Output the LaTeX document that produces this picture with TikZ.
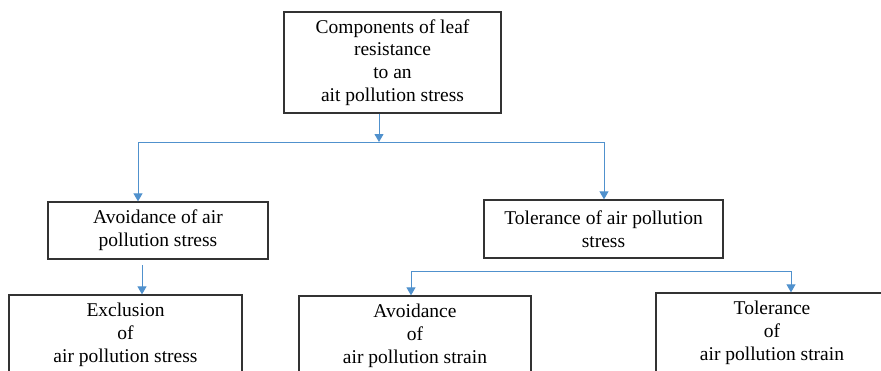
\documentclass[tikz,border=0pt]{standalone}
\usepackage{fontspec}
\setmainfont{Liberation Serif}
\usepackage{tikz}
\usetikzlibrary{arrows.meta}
\definecolor{linkblue}{RGB}{80,145,205}
\newcommand{\boxfont}{\fontsize{19.5}{22.7}\selectfont}

\begin{document}
\begin{tikzpicture}[x=1pt,y=-1pt,
    box/.style={draw=black!80,line width=1.3pt,align=center,font=\boxfont,inner sep=0pt},
    link/.style={color=linkblue,line width=1pt},
    arr/.style={link,-{Triangle[length=8pt,width=9pt]}}]
  \useasboundingbox (0,0) rectangle (881,370);
  % boxes
  \node[box,minimum width=217pt,minimum height=101pt] (comp) at (392.5,62.5)
    {Components of leaf\\ resistance\\ to an\\ ait pollution stress};
  \node[box,minimum width=220pt,minimum height=57pt] (avstress) at (158,230.5)
    {Avoidance of air\\ pollution stress};
  \node[box,minimum width=239pt,minimum height=58pt] (tolstress) at (603.5,229)
    {Tolerance of air pollution\\ stress};
  \node[box,minimum width=233pt,minimum height=80pt] (excl) at (125.5,335)
    {Exclusion\\ of\\ air pollution stress};
  \node[box,minimum width=232pt,minimum height=80pt] (avstrain) at (415,336)
    {Avoidance\\ of\\ air pollution strain};
  \node[box,minimum width=232pt,minimum height=80pt] (tolstrain) at (772,333)
    {Tolerance\\ of\\ air pollution strain};
  % branch points
  \coordinate (top-l) at (138,142);
  \coordinate (top-m) at (379,142);
  \coordinate (top-r) at (604,142);
  \coordinate (low-l) at (411,271);
  \coordinate (low-r) at (791,271);
  \coordinate (mid-l) at (142,265);
  % connectors
  \draw[link] (top-l) -- (top-r);
  \draw[link] (low-l) -- (low-r);
  \draw[arr] (comp.south -| top-m) -- (top-m);
  \draw[arr] (top-l) -- (avstress.north -| top-l);
  \draw[arr] (top-r) -- (tolstress.north -| top-r);
  \draw[arr] (mid-l) -- (excl.north -| mid-l);
  \draw[arr] (low-l) -- (avstrain.north -| low-l);
  \draw[arr] (low-r) -- (tolstrain.north -| low-r);
\end{tikzpicture}
\end{document}
